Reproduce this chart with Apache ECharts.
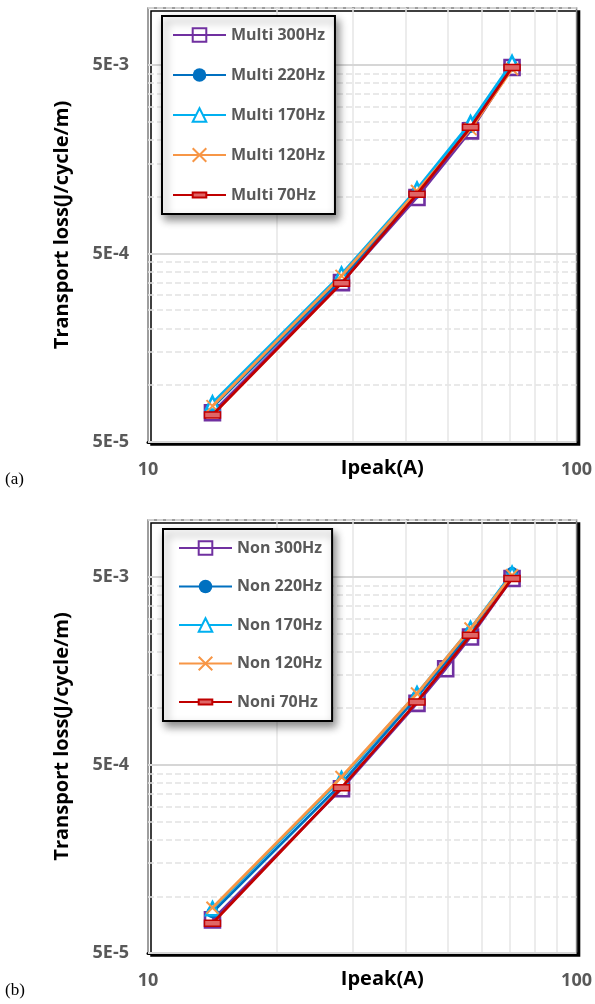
<!DOCTYPE html>
<html>
<head>
<meta charset="utf-8">
<script src="https://cdn.jsdelivr.net/npm/echarts@6/dist/echarts.min.js"></script>
<style>
  html, body { margin: 0; padding: 0; background: #fff; }
  #chart { width: 595px; height: 1004px; }
</style>
</head>
<body>
<div id="chart"></div>
<script>
// ---------------- DATA ----------------
const ipeak = [14.14, 28.28, 42.43, 56.57, 70.71];
const ipeakNon300 = [14.14, 28.28, 42.43, 49.5, 56.57, 70.71];

const multiNames = ['Multi 300Hz', 'Multi 220Hz', 'Multi 170Hz', 'Multi 120Hz', 'Multi 70Hz'];
const multi300 = [7.15e-5, 3.50e-4, 9.9e-4, 2.23e-3, 4.84e-3];
const multi220 = [7.65e-5, 3.65e-4, 1.05e-3, 2.34e-3, 4.94e-3];
const multi170 = [8.05e-5, 3.88e-4, 1.095e-3, 2.47e-3, 5.14e-3];
const multi120 = [7.75e-5, 3.80e-4, 1.07e-3, 2.28e-3, 4.74e-3];
const multi70 = [6.95e-5, 3.47e-4, 1.03e-3, 2.33e-3, 4.84e-3];

const nonNames = ['Non 300Hz', 'Non 220Hz', 'Non 170Hz', 'Non 120Hz', 'Noni 70Hz'];
const non300 = [7.5e-5, 3.73e-4, 1.06e-3, 1.62e-3, 2.39e-3, 4.89e-3];
const non220 = [8.24e-5, 3.97e-4, 1.15e-3, 2.54e-3, 5.24e-3];
const non170 = [8.6e-5, 4.22e-4, 1.196e-3, 2.65e-3, 5.2e-3];
const non120 = [8.7e-5, 4.31e-4, 1.196e-3, 2.65e-3, 5.09e-3];
const non70 = [7.2e-5, 3.78e-4, 1.08e-3, 2.44e-3, 4.89e-3];

const yMajorTicks = [5e-5, 5e-4, 5e-3];
const yMinorTicks = [1e-4, 1.5e-4, 2e-4, 2.5e-4, 3e-4, 3.5e-4, 4e-4, 4.5e-4,
                     1e-3, 1.5e-3, 2e-3, 2.5e-3, 3e-3, 3.5e-3, 4e-3, 4.5e-3, 1e-2];
const yMajorLabels = ['5E-5', '5E-4', '5E-3'];
const xLabelTicks = [10, 100];
const xGridTicks = [20, 30, 40, 50, 60, 70, 80, 90];

// ---------------- STYLE ----------------
const FONT = 'Open Sans';
const styles = [
  { color: '#7030A0', symbol: 'rect', size: 15, fill: 'rgba(255,255,255,0)', bw: 2.6 },
  { color: '#0070C0', symbol: 'circle', size: 12, fill: '#0070C0', bw: 0 },
  { color: '#00B0F0', symbol: 'triangle', size: 13, fill: '#ffffff', bw: 2.6 },
  { color: '#F79646', symbol: 'path://M0,0L10,10M10,0L0,10', size: 12, fill: '#F79646', bw: 2 },
  { color: '#C00000', symbol: 'path://M0,0M0,5H16V11H0ZM16,16', size: 16, fill: '#E06666', bw: 1.5 }
];

function pairs(xs, ys) { return xs.map((x, i) => [x, ys[i]]); }

function makeSeries(name, xs, ys, idx, gridIdx) {
  const s = styles[idx];
  return {
    name: name,
    type: 'line',
    xAxisIndex: gridIdx,
    yAxisIndex: gridIdx * 2,
    data: pairs(xs, ys),
    symbol: s.symbol,
    symbolSize: s.size,
    showAllSymbol: true,
    lineStyle: { color: s.color, width: 2.8 },
    itemStyle: { color: s.fill, borderColor: s.color, borderWidth: s.bw },
    emphasis: { disabled: true },
    animation: false,
    z: 3 + idx
  };
}

function xAxisFor(gridIdx) {
  return {
    type: 'log', logBase: 10, gridIndex: gridIdx, min: 10, max: 100,
    name: 'Ipeak(A)', nameLocation: 'middle', nameGap: 16, nameMoveOverlap: false,
    nameTextStyle: { fontFamily: FONT, fontWeight: 'bold', fontSize: 20, color: '#000', padding: [0, 0, 0, 40] },
    axisLine: { show: true, lineStyle: { color: '#000', width: 3 } },
    axisTick: { show: false, customValues: xGridTicks },
    axisLabel: {
      customValues: xLabelTicks, margin: 19, fontFamily: FONT, fontWeight: 'bold',
      fontSize: 18, color: '#595959', formatter: v => String(Math.round(v))
    },
    splitLine: { show: true, lineStyle: { color: '#e6e6e6', width: 1.5, type: 'solid' } }
  };
}

function yAxesFor(gridIdx) {
  return [
    {
      type: 'log', logBase: 10, gridIndex: gridIdx, min: 5e-5, max: 1e-2,
      name: 'Transport loss(J/cycle/m)', nameLocation: 'middle', nameGap: 76, nameMoveOverlap: false,
      nameTextStyle: { fontFamily: FONT, fontWeight: 'bold', fontSize: 20, color: '#000' },
      axisLine: { show: false },
      axisTick: { show: false, customValues: yMajorTicks },
      axisLabel: {
        customValues: yMajorTicks, margin: 19, fontFamily: FONT, fontWeight: 'bold',
        fontSize: 18, color: '#595959',
        formatter: v => yMajorLabels[yMajorTicks.findIndex(t => Math.abs(t - v) / t < 1e-6)] || ''
      },
      splitLine: { show: true, lineStyle: { color: '#d6d6d6', width: 2, type: 'solid' } },
      z: 1
    },
    {
      type: 'log', logBase: 10, gridIndex: gridIdx, min: 5e-5, max: 1e-2,
      axisLine: { show: false },
      axisTick: { show: false, customValues: yMinorTicks },
      axisLabel: { show: false },
      splitLine: { show: true, lineStyle: { color: '#e2e2e2', width: 1.5, type: [6, 3] } },
      z: 0
    }
  ];
}

function legendFor(names, left, top, padLeft, gap) {
  return {
    data: names,
    orient: 'vertical',
    left: left, top: top,
    padding: [11, 10, 11, padLeft],
    itemGap: gap,
    itemWidth: 53,
    itemHeight: 17,
    backgroundColor: '#ffffff',
    borderColor: '#000000',
    borderWidth: 2,
    shadowColor: 'rgba(0,0,0,0.45)',
    shadowBlur: 8,
    shadowOffsetX: 3,
    shadowOffsetY: 5,
    textStyle: { fontFamily: FONT, fontWeight: 'bold', fontSize: 16, color: '#595959' },
    selectedMode: false
  };
}

const gridStyle = {
  show: true, backgroundColor: '#ffffff', borderColor: '#7f7f7f', borderWidth: 1.5,
  shadowColor: '#000000', shadowOffsetX: 3, shadowOffsetY: 3, shadowBlur: 0
};

const multiData = [multi300, multi220, multi170, multi120, multi70];
const nonData = [non300, non220, non170, non120, non70];

const series = [];
multiNames.forEach((n, i) => series.push(makeSeries(n, ipeak, multiData[i], i, 0)));
nonNames.forEach((n, i) => series.push(makeSeries(n, i === 0 ? ipeakNon300 : ipeak, nonData[i], i, 1)));

const option = {
  animation: false,
  backgroundColor: '#ffffff',
  grid: [
    Object.assign({ left: 148, top: 8, width: 432, height: 434 }, gridStyle),
    Object.assign({ left: 148, top: 520, width: 432, height: 433 }, gridStyle)
  ],
  xAxis: [xAxisFor(0), xAxisFor(1)],
  yAxis: yAxesFor(0).concat(yAxesFor(1)),
  legend: [legendFor(multiNames, 162, 16, 10, 24), legendFor(nonNames, 163, 529, 15, 22.5)],
  graphic: [
    { type: 'text', left: 5, top: 471, style: { text: '(a)', font: '17px "Liberation Serif"', fill: '#000' } },
    { type: 'text', left: 5, top: 982, style: { text: '(b)', font: '17px "Liberation Serif"', fill: '#000' } }
  ],
  series: series
};

const chart = echarts.init(document.getElementById('chart'), null, { renderer: 'canvas' });
chart.setOption(option);
</script>
</body>
</html>
